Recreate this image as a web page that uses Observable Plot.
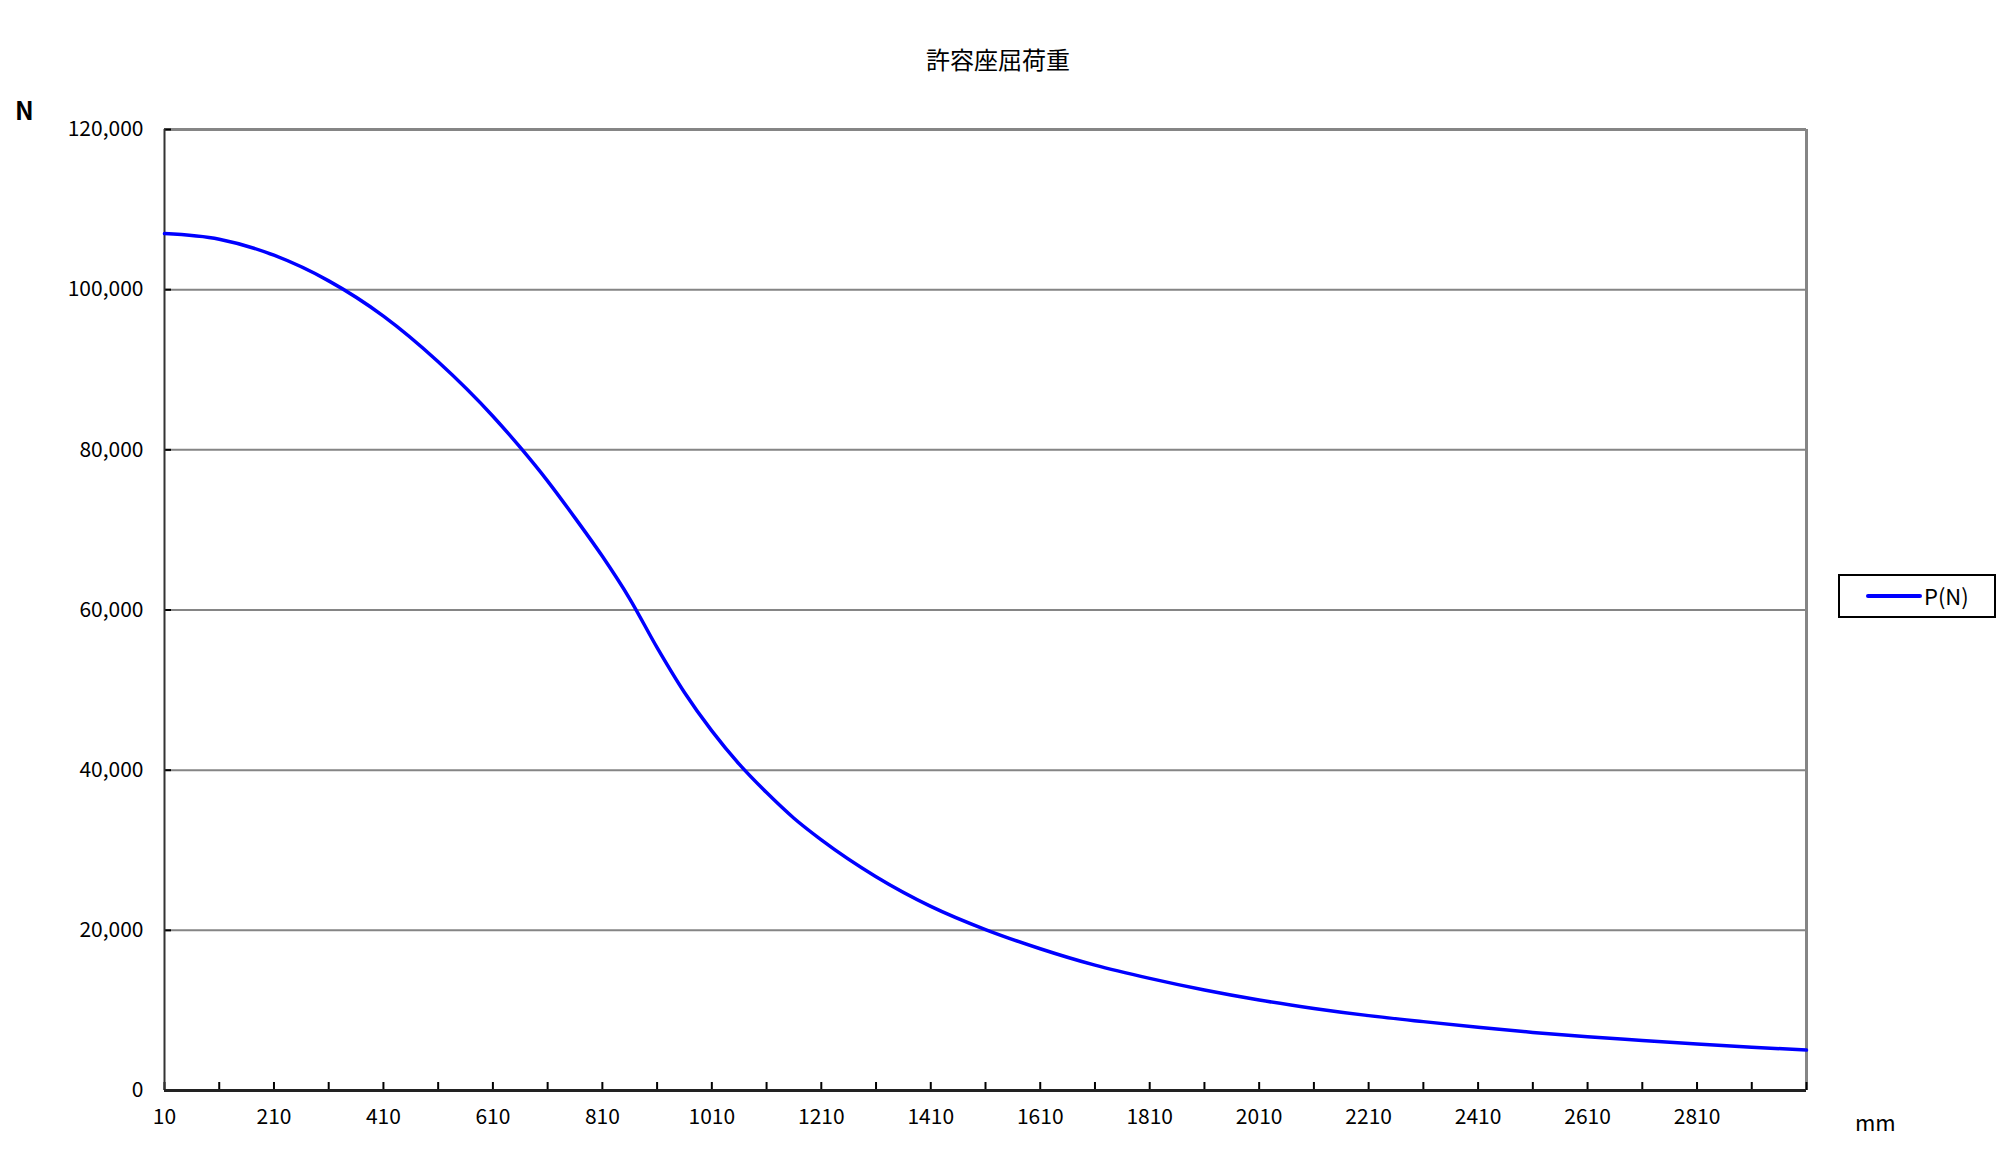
<!DOCTYPE html>
<html>
<head>
<meta charset="utf-8">
<script src="https://cdn.jsdelivr.net/npm/d3@7"></script>
<script src="https://cdn.jsdelivr.net/npm/@observablehq/plot@0.6"></script>
<style>
  html, body { margin: 0; padding: 0; background: #fff; overflow: hidden; }
  #wrap { position: relative; width: 2016px; height: 1169px; font-family: "Noto Sans CJK JP", "Noto Sans", sans-serif; color: #000; }
  #wrap svg { display: block; }
  .lbl { position: absolute; white-space: nowrap; line-height: 1; }
  #title { left: 0; width: 1996px; top: 47px; text-align: center; font-size: 24px; }
  #ylab { left: 15px; top: 97px; font-size: 25px; font-weight: bold; }
  #xlab { left: 1855px; top: 1110px; font-size: 22px; }
  #legend { position: absolute; left: 1838px; top: 574px; width: 154px; height: 40px; border: 2px solid #000; box-sizing: content-box; }
  #legend .sw { position: absolute; left: 26px; top: 18px; width: 56px; height: 4px; background: #0000FF; border-radius: 2px; }
  #legend .tx { position: absolute; left: 84px; top: 8px; font-size: 22px; line-height: 1; }
</style>
</head>
<body>
<div id="wrap">
  <div id="title" class="lbl">許容座屈荷重</div>
  <div id="ylab" class="lbl">N</div>
  <div id="xlab" class="lbl">mm</div>
  <div id="legend"><div class="sw"></div><div class="tx">P(N)</div></div>
</div>
<script>
// Length (mm) and allowable buckling load P (N)
const lengths = [10, 110, 210, 310, 410, 510, 610, 660, 710, 760, 810, 860, 910, 960, 1010, 1060, 1110, 1160, 1210, 1310, 1410, 1510, 1610, 1710, 1810, 1910, 2010, 2110, 2210, 2310, 2410, 2510, 2610, 2710, 2810, 2910, 3010];
const loads   = [107000, 106300, 104300, 101100, 96700, 91000, 84200, 80300, 76100, 71500, 66700, 61400, 55300, 49700, 44900, 40750, 37200, 34000, 31300, 26700, 23000, 20100, 17700, 15650, 14000, 12550, 11300, 10250, 9350, 8600, 7900, 7250, 6700, 6250, 5800, 5400, 5050];

// Axis ticks
const yTicks = [0, 20000, 40000, 60000, 80000, 100000, 120000];
const xTickLabels = [10, 210, 410, 610, 810, 1010, 1210, 1410, 1610, 1810, 2010, 2210, 2410, 2610, 2810];
const xTicks = [10, 110, 210, 310, 410, 510, 610, 710, 810, 910, 1010, 1110, 1210, 1310, 1410, 1510, 1610, 1710, 1810, 1910, 2010, 2110, 2210, 2310, 2410, 2510, 2610, 2710, 2810, 2910, 3010];

const data = lengths.map((L, i) => ({L, P: loads[i]}));
const xMin = xTicks[0], xMax = xTicks[xTicks.length - 1];
const yMax = yTicks[yTicks.length - 1];
const yGrid = yTicks.slice(1, -1);

const chart = Plot.plot({
  width: 2016,
  height: 1169,
  marginLeft: 164,
  marginRight: 210,
  marginTop: 129,
  marginBottom: 79,
  style: {fontFamily: '"Noto Sans CJK JP", "Noto Sans", sans-serif', fontSize: "21px", color: "#000", background: "transparent"},
  x: {domain: [xMin, xMax]},
  y: {domain: [0, yMax]},
  marks: [
    Plot.gridY(yGrid, {stroke: "#858585", strokeOpacity: 1, strokeWidth: 2}),
    Plot.ruleY([yMax], {stroke: "#858585", strokeWidth: 3}),
    Plot.ruleX([xMax], {stroke: "#858585", strokeWidth: 3}),
    Plot.axisY({ticks: yTicks, tickSize: -7, tickPadding: 28, tickFormat: d3.format(","), label: null, strokeWidth: 2, stroke: "#000"}),
    Plot.axisX({ticks: xTicks, tickSize: -8, tickPadding: 27, tickFormat: d => xTickLabels.includes(d) ? String(d) : "", label: null, strokeWidth: 2, stroke: "#000"}),
    Plot.ruleX([xMin], {stroke: "#333", strokeWidth: 2}),
    Plot.ruleY([0], {stroke: "#222", strokeWidth: 3}),
    Plot.line(data, {x: "L", y: "P", stroke: "#0000FF", strokeWidth: 3.5, curve: "monotone-x"})
  ]
});
document.getElementById("wrap").prepend(chart);
</script>
</body>
</html>
